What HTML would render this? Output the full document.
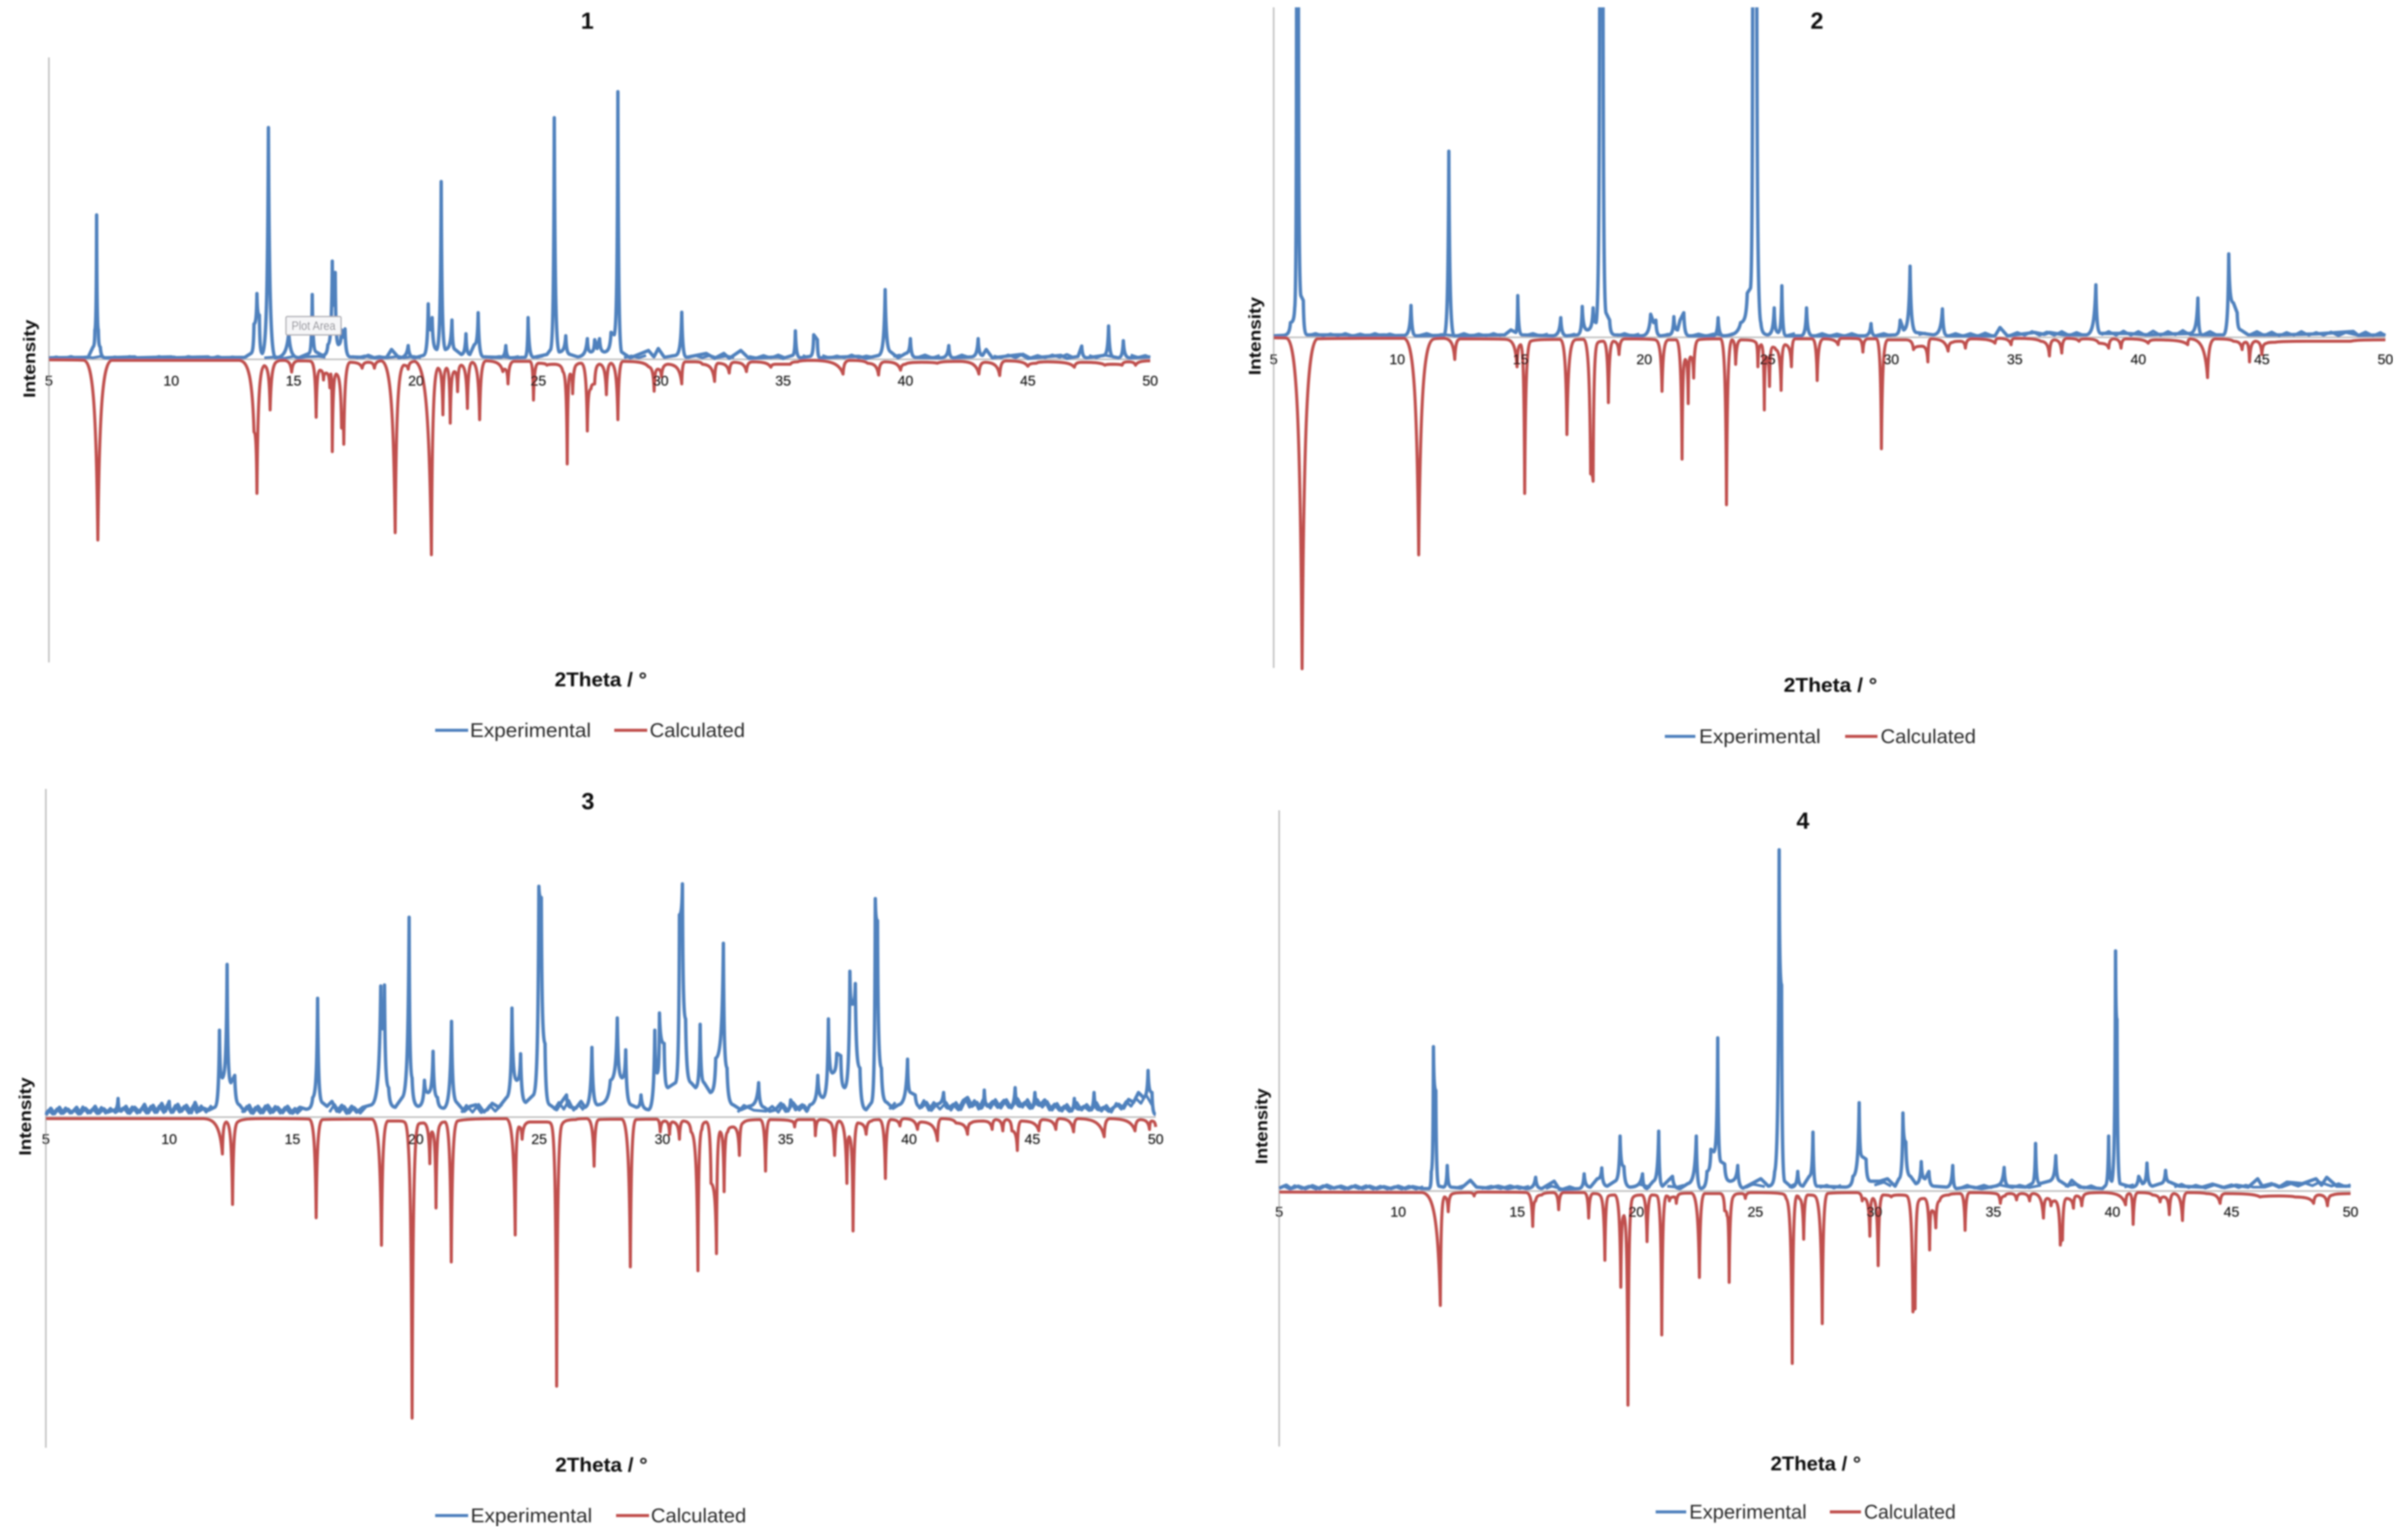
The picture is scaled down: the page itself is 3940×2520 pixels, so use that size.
<!DOCTYPE html>
<html lang="en">
<head>
<meta charset="utf-8">
<title>Experimental and calculated diffraction patterns</title>
<style>
html,body{margin:0;padding:0;background:#fff;}
svg{display:block;font-family:"Liberation Sans",sans-serif;}
.title{font-size:38px;font-weight:bold;fill:#111;text-anchor:middle;dominant-baseline:central;}
.xlab{font-size:32px;font-weight:bold;fill:#111;text-anchor:middle;dominant-baseline:central;}
.ylab{font-size:28px;font-weight:bold;fill:#111;text-anchor:middle;dominant-baseline:central;}
.leg{font-size:32px;fill:#2a2a2a;dominant-baseline:central;}
.tick{font-size:23px;fill:#1c1c1c;stroke:#1c1c1c;stroke-width:.35px;text-anchor:middle;dominant-baseline:central;}
</style>
</head>
<body>
<svg id="root" width="3940" height="2520" viewBox="0 0 3940 2520" xmlns="http://www.w3.org/2000/svg">
<defs>
<filter id="soft" x="0" y="0" width="100%" height="100%"><feGaussianBlur stdDeviation="1.3"/></filter>
<clipPath id="clip-panel-2"><rect x="2000" y="12" width="1940" height="1090"/></clipPath>
</defs>
<rect x="0" y="0" width="3940" height="2520" fill="#fff"/>
<g filter="url(#soft)">

<g id="panel-1">
<text class="title" x="961" y="35">1</text>
<text class="ylab" x="48" y="587" transform="rotate(-90 48 587)" textLength="128" lengthAdjust="spacingAndGlyphs">Intensity</text>
<text class="xlab" x="983" y="1112" textLength="151" lengthAdjust="spacingAndGlyphs">2Theta / °</text>
<line x1="712" x2="766" y1="1195" y2="1195" stroke="#4F81BD" stroke-width="5"/>
<text class="leg" x="769" y="1195" textLength="198" lengthAdjust="spacingAndGlyphs">Experimental</text>
<line x1="1005" x2="1059" y1="1195" y2="1195" stroke="#C0504D" stroke-width="5"/>
<text class="leg" x="1063" y="1195" textLength="156" lengthAdjust="spacingAndGlyphs">Calculated</text>
</g>

<g id="panel-2">
<text class="title" x="2973" y="35">2</text>
<text class="ylab" x="2053" y="550" transform="rotate(-90 2053 550)" textLength="128" lengthAdjust="spacingAndGlyphs">Intensity</text>
<text class="xlab" x="2995" y="1121" textLength="153" lengthAdjust="spacingAndGlyphs">2Theta / °</text>
<line x1="2724" x2="2774" y1="1205" y2="1205" stroke="#4F81BD" stroke-width="5"/>
<text class="leg" x="2780" y="1205" textLength="199" lengthAdjust="spacingAndGlyphs">Experimental</text>
<line x1="3019" x2="3072" y1="1205" y2="1205" stroke="#C0504D" stroke-width="5"/>
<text class="leg" x="3077" y="1205" textLength="156" lengthAdjust="spacingAndGlyphs">Calculated</text>
</g>

<g id="panel-3">
<text class="title" x="962" y="1312">3</text>
<text class="ylab" x="41" y="1827" transform="rotate(-90 41 1827)" textLength="128" lengthAdjust="spacingAndGlyphs">Intensity</text>
<text class="xlab" x="984" y="2397" textLength="151" lengthAdjust="spacingAndGlyphs">2Theta / °</text>
<line x1="712" x2="766" y1="2480" y2="2480" stroke="#4F81BD" stroke-width="5"/>
<text class="leg" x="770" y="2480" textLength="199" lengthAdjust="spacingAndGlyphs">Experimental</text>
<line x1="1008" x2="1062" y1="2480" y2="2480" stroke="#C0504D" stroke-width="5"/>
<text class="leg" x="1065" y="2480" textLength="156" lengthAdjust="spacingAndGlyphs">Calculated</text>
</g>

<g id="panel-4">
<text class="title" x="2950" y="1344">4</text>
<text class="ylab" x="2064" y="1843" transform="rotate(-90 2064 1843)" textLength="124" lengthAdjust="spacingAndGlyphs">Intensity</text>
<text class="xlab" x="2971" y="2395" textLength="148" lengthAdjust="spacingAndGlyphs">2Theta / °</text>
<line x1="2709" x2="2759" y1="2474" y2="2474" stroke="#4F81BD" stroke-width="5"/>
<text class="leg" x="2764" y="2474" textLength="192" lengthAdjust="spacingAndGlyphs">Experimental</text>
<line x1="2994" x2="3045" y1="2474" y2="2474" stroke="#C0504D" stroke-width="5"/>
<text class="leg" x="3050" y="2474" textLength="150" lengthAdjust="spacingAndGlyphs">Calculated</text>
</g>

<g id="overlay"></g>
</g>
</svg>

<script>
// Shared x-axis tick labels (degrees 2-theta)
const xTicks = [5,10,15,20,25,30,35,40,45,50];

// Turning points: [2-theta, intensity in arbitrary units]
const exp1 = [[5,3],[6.6,4],[6.8,25],[6.88,60],[6.95,294],[7.02,60],[7.1,25],[7.3,3],[8.5,5],[8.6,3],[10,5],[10.1,3],[11.5,5],[11.6,3],[13,4],[13.25,12],[13.38,72],[13.5,134],[13.6,90],[13.72,12],[13.97,472],[14.25,3],[14.8,55],[15.2,3],[15.62,12],[15.76,132],[15.92,15],[16.17,8],[16.4,30],[16.58,200],[16.66,110],[16.7,177],[16.83,30],[16.95,60],[17.02,45],[17.1,62],[17.3,5],[17.85,4],[18.05,8],[18.3,3],[18.8,4],[19,20],[19.3,3],[19.68,28],[19.95,3],[20.3,8],[20.5,113],[20.6,60],[20.66,85],[20.85,20],[21.03,362],[21.2,20],[21.47,80],[21.6,20],[21.85,10],[22.04,52],[22.2,10],[22.38,30],[22.54,95],[22.75,5],[23.45,4],[23.67,28],[23.85,3],[24.45,4],[24.58,85],[24.8,4],[25.35,10],[25.5,20],[25.65,492],[25.85,15],[26.12,48],[26.3,10],[26.6,5],[27,42],[27.15,15],[27.3,40],[27.4,22],[27.5,42],[27.7,15],[27.97,55],[28.1,50],[28.25,545],[28.4,15],[28.75,3],[29.5,18],[29.72,5],[29.9,22],[30.15,4],[30.6,8],[30.86,96],[31.05,4],[31.86,12],[32.2,2],[32.58,12],[32.8,2],[33.27,18],[33.6,2],[34.8,5],[35,2],[35.38,8],[35.5,58],[35.7,3],[36.1,6],[36.25,50],[36.4,40],[36.5,3],[37.5,5],[38.1,6],[38.4,2],[38.9,8],[39.17,142],[39.4,15],[39.7,3],[40,12],[40.2,42],[40.4,4],[41.45,3],[41.77,28],[41.95,3],[42.7,5],[42.97,42],[43.15,8],[43.3,20],[43.55,3],[44.72,10],[45,2],[46.35,8],[46.6,2],[47.05,6],[47.2,27],[47.4,3],[48.1,8],[48.3,68],[48.5,5],[48.7,3],[48.9,38],[49.15,3],[50,5]];
const fuzz1 = [[5,2],[5.3,5],[5.6,2],[5.9,6],[6.2,2],[6.5,5],[6.8,3],[7.1,6],[7.4,2],[7.7,5],[8,2],[8.3,6],[8.6,2],[8.9,4],[9.2,2],[9.5,6],[9.8,2],[10.1,5],[10.4,2],[10.7,6],[11,3],[11.3,5],[11.6,2],[11.9,6],[12.2,2],[12.5,5],[12.8,3],[13.1,5],[13.8,3],[14.3,5],[14.6,2],[15,6],[15.3,3],[15.5,5],[16,6],[16.3,4],[17.4,6],[17.6,3],[17.9,7],[18.2,3],[18.5,6],[18.8,3],[19.3,6],[19.5,3],[19.9,6],[20.2,3],[22.8,6],[23.1,3],[23.4,6],[23.9,3],[24.2,6],[24.9,3],[25.2,7],[26.6,4],[26.8,8],[28.5,3],[28.8,7],[29.1,3],[29.4,8],[30.2,4],[30.5,8],[31.1,3],[31.4,8],[31.7,3],[32,8],[32.3,3],[32.7,7],[33,3],[33.6,6],[33.9,3],[34.2,8],[34.5,3],[34.8,9],[35.1,3],[35.8,8],[36,4],[36.6,8],[36.9,3],[37.2,7],[37.5,3],[37.8,9],[38.1,3],[38.4,7],[38.7,4],[39.5,6],[39.8,9],[40.5,4],[40.8,9],[41.1,3],[41.4,8],[42,3],[42.3,9],[42.6,4],[43.6,7],[43.9,3],[44.2,9],[44.5,3],[44.8,11],[45.1,3],[45.4,8],[45.7,3],[46,9],[46.3,4],[46.6,10],[46.9,3],[47.5,8],[47.8,3],[48.1,9],[48.6,4],[49.2,9],[49.5,4],[49.8,8],[50,4]];
const calc1 = [[5,-1],[6.45,-2],[7,-368],[7.55,-2],[12.8,-2],[13.38,-148],[13.5,-273],[13.8,-13],[14.04,-103],[14.35,-4],[14.6,-2],[14.92,-26],[15.2,-3],[15.7,-4],[15.92,-118],[16.08,-22],[16.22,-42],[16.33,-28],[16.48,-58],[16.52,-30],[16.58,-188],[16.74,-30],[16.96,-140],[17,-130],[17.05,-173],[17.3,-6],[17.8,-18],[18.05,-6],[18.3,-18],[18.6,-3],[19.15,-353],[19.5,-12],[19.68,-20],[19.95,-4],[20.63,-398],[20.9,-18],[21.1,-113],[21.25,-18],[21.4,-130],[21.57,-25],[21.7,-66],[21.85,-12],[22.1,-100],[22.3,-6],[22.6,-123],[22.85,-3],[23.55,-25],[23.62,-20],[23.76,-50],[24,-4],[24.65,-4],[24.8,-83],[25,-8],[25.35,-12],[25.65,-10],[26,-25],[26.18,-213],[26.3,-30],[26.4,-70],[26.6,-10],[26.76,-8],[27,-146],[27.15,-60],[27.3,-50],[27.5,-10],[27.78,-72],[27.97,-8],[28.25,-123],[28.45,-4],[29.5,-15],[29.73,-65],[29.88,-20],[30.03,-35],[30.3,-10],[30.86,-50],[31,-5],[31.4,-5],[31.7,-10],[32.2,-45],[32.35,-8],[32.8,-28],[33,-6],[33.5,-25],[33.75,-5],[34.5,-16],[34.7,-10],[35.3,-10],[35.6,-5],[36.2,-2],[37.45,-30],[37.7,-2],[38.45,-8],[38.9,-32],[39.15,-5],[39.8,-22],[40,-10],[40.65,-6],[41.3,-8],[42.2,-4],[43,-30],[43.25,-6],[43.85,-33],[44.1,-3],[45,-14],[45.35,-8],[45.8,-5],[46.9,-16],[47.2,-6],[48.15,-12],[48.45,-10],[48.85,-12],[49.1,-5],[49.4,-12],[50,-3]];

const exp2 = [[5,3],[5.4,4],[5.68,30],[5.85,60],[5.93,800],[6,800],[6.1,85],[6.2,75],[6.35,5],[8,5],[8.1,3],[9.5,5],[9.6,3],[10.3,4],[10.56,65],[10.75,3],[11.9,4],[12.09,379],[12.3,3],[14.35,5],[14.6,15],[14.8,10],[14.88,85],[15.05,5],[16.3,3],[16.62,40],[16.85,3],[17.3,5],[17.49,63],[17.7,15],[17.93,60],[18.05,30],[18.2,800],[18.33,800],[18.45,50],[18.6,35],[18.8,5],[19.9,3],[20.26,47],[20.38,30],[20.47,35],[20.65,3],[21,5],[21.2,42],[21.35,15],[21.45,35],[21.6,50],[21.8,3],[22.8,3],[22.99,40],[23.2,3],[23.9,30],[24.17,90],[24.3,100],[24.39,800],[24.55,800],[24.72,30],[25,5],[25.26,60],[25.42,10],[25.57,105],[25.73,3],[26.35,3],[26.57,60],[26.8,3],[28.9,3],[29.18,28],[29.36,3],[30.15,5],[30.36,35],[30.5,15],[30.76,145],[31,10],[31.7,5],[32.07,58],[32.26,3],[34.2,3],[34.4,20],[34.7,3],[35.8,10],[36.2,6],[36.4,10],[37,5],[37.9,5],[38.28,107],[38.47,8],[39.5,8],[40.4,5],[41.4,7],[42.1,8],[42.41,80],[42.57,5],[43.45,5],[43.66,170],[43.85,70],[44,50],[44.15,15],[44.45,5],[45.7,5],[47.2,7],[48.7,12],[48.9,4],[50,5]];
const fuzz2 = [[5,3],[6.4,4],[6.7,8],[7,3],[7.3,7],[7.6,3],[7.9,8],[8.2,3],[8.5,7],[8.8,3],[9.1,8],[9.4,3],[9.7,7],[10,3],[10.9,4],[11.2,8],[11.5,3],[11.8,6],[12.4,3],[12.7,8],[13,3],[13.3,7],[13.6,3],[13.9,8],[14.2,3],[15.2,4],[15.5,8],[15.8,3],[16.1,7],[16.9,3],[17.2,7],[18.9,3],[19.2,8],[19.5,3],[19.8,7],[20.7,3],[21,7],[21.9,3],[22.2,7],[22.5,3],[22.8,7],[23.3,3],[23.6,8],[25,4],[25.8,4],[26.1,8],[26.9,3],[27.2,8],[27.5,3],[27.8,7],[28.1,3],[28.4,8],[28.7,3],[29.4,4],[29.7,8],[30,3],[31.1,5],[31.4,9],[32.3,3],[32.6,8],[32.9,3],[33.2,8],[33.5,3],[33.8,9],[34.1,3],[34.8,4],[35.1,10],[35.4,4],[35.7,12],[36,4],[36.3,11],[36.6,4],[36.9,12],[37.2,4],[37.5,10],[37.8,4],[38.5,5],[38.8,12],[39.1,4],[39.4,13],[39.7,4],[40,12],[40.3,4],[40.6,13],[40.9,4],[41.2,12],[41.5,5],[41.8,14],[42.1,5],[42.6,5],[42.9,12],[43.2,4],[44.5,5],[44.8,12],[45.1,4],[45.4,11],[45.7,3],[46,10],[46.3,4],[46.6,12],[46.9,4],[47.2,10],[47.5,4],[47.8,11],[48.1,3],[48.4,10],[48.9,4],[49.2,11],[49.5,3],[49.8,10],[50,4]];
const calc2 = [[5,-1],[5.55,-2],[6.15,-675],[6.75,-3],[10.3,-2],[10.87,-443],[11.45,-4],[11.9,-2],[12.33,-45],[12.55,-3],[14.4,-4],[14.85,-60],[15,-15],[15.16,-318],[15.4,-8],[16.6,-4],[16.87,-198],[17.2,-5],[17.55,-4],[17.83,-278],[17.93,-293],[18.11,-12],[18.35,-8],[18.55,-133],[18.75,-8],[18.98,-35],[19.2,-3],[20.45,-5],[20.72,-110],[20.97,-5],[21.3,-5],[21.53,-248],[21.66,-45],[21.78,-135],[21.87,-40],[22,-83],[22.2,-5],[23.1,-3],[23.33,-341],[23.55,-5],[23.7,-55],[23.92,-5],[24.5,-10],[24.6,-60],[24.74,-15],[24.86,-148],[24.95,-40],[25.07,-100],[25.2,-20],[25.32,-25],[25.54,-108],[25.7,-15],[25.96,-60],[26.1,-3],[26.8,-3],[27,-88],[27.25,-3],[27.85,-15],[28,-2],[28.65,-3],[28.85,-30],[29.05,-3],[29.4,-3],[29.6,-227],[29.85,-5],[30.6,-5],[30.9,-25],[31.25,-18],[31.48,-50],[31.6,-3],[32.3,-28],[32.5,-10],[32.8,-8],[33,-22],[33.25,-3],[34.2,-12],[34.35,-2],[34.85,-15],[35,-2],[36.05,-8],[36.4,-38],[36.6,-5],[36.9,-32],[37.1,-2],[37.6,-8],[37.85,-3],[38.4,-12],[38.8,-22],[39,-3],[39.3,-22],[39.5,-3],[40.4,-12],[40.7,-5],[42,-15],[42.1,-3],[42.8,-82],[43.1,-3],[43.85,-8],[44.2,-25],[44.35,-10],[44.5,-50],[44.75,-8],[45,-35],[45.2,-12],[45.55,-10],[46.8,-8],[48.6,-8],[50,-5]];

const exp3 = [[5,4],[5.2,18],[5.35,7],[5.55,20],[5.7,8],[5.9,16],[6.05,9],[6.25,20],[6.4,7],[6.6,18],[6.8,9],[7,22],[7.15,8],[7.35,17],[7.5,10],[7.75,14],[7.93,38],[8.05,12],[8.25,22],[8.4,8],[8.6,20],[8.8,10],[9,26],[9.15,9],[9.35,24],[9.5,10],[9.7,28],[9.85,12],[10,32],[10.15,10],[10.35,26],[10.5,12],[10.7,24],[10.9,9],[11.05,30],[11.2,12],[11.4,18],[11.6,14],[11.85,20],[12.04,177],[12.16,80],[12.35,311],[12.5,70],[12.66,85],[12.85,25],[13.05,12],[13.25,24],[13.4,8],[13.6,22],[13.8,9],[14,24],[14.2,10],[14.4,20],[14.6,9],[14.8,22],[15,8],[15.3,20],[15.55,16],[15.82,40],[16.02,242],[16.2,30],[16.4,22],[16.6,32],[16.8,12],[17,24],[17.2,8],[17.4,22],[17.6,10],[17.85,20],[18.2,25],[18.58,267],[18.65,180],[18.73,269],[18.9,60],[19.17,20],[19.45,40],[19.73,407],[19.85,80],[20.1,22],[20.35,75],[20.5,50],[20.7,134],[20.88,40],[21.13,18],[21.45,195],[21.66,30],[21.97,12],[22.2,22],[22.44,25],[22.65,10],[22.9,15],[23.1,28],[23.37,20],[23.68,40],[23.9,222],[24.09,75],[24.25,129],[24.46,30],[24.77,45],[24.99,470],[25.09,447],[25.24,150],[25.43,25],[25.71,15],[25.9,30],[26.11,45],[26.3,20],[26.49,18],[26.7,32],[26.86,20],[27.14,142],[27.36,25],[27.89,75],[28.17,202],[28.36,80],[28.51,137],[28.73,25],[28.95,20],[29.13,45],[29.44,15],[29.69,177],[29.79,90],[29.88,212],[30.07,150],[30.22,60],[30.53,70],[30.69,412],[30.81,475],[30.94,200],[31.16,70],[31.34,60],[31.53,189],[31.69,70],[31.94,50],[32.16,120],[32.47,354],[32.62,100],[32.87,25],[33.18,15],[33.5,22],[33.9,70],[34.12,20],[34.35,12],[34.58,15],[34.8,28],[35,12],[35.2,35],[35.4,15],[35.67,25],[35.85,12],[35.98,25],[36.3,85],[36.51,40],[36.73,200],[36.89,90],[37.07,130],[37.23,125],[37.39,60],[37.6,297],[37.7,230],[37.82,272],[38.01,100],[38.26,15],[38.48,30],[38.63,445],[38.72,400],[38.88,100],[39.1,30],[39.35,18],[39.57,25],[39.94,118],[40.06,50],[40.25,45],[40.5,20],[40.7,30],[40.9,14],[41.1,26],[41.4,50],[41.6,18],[41.8,26],[42,15],[42.2,34],[42.37,40],[42.55,22],[42.75,30],[42.9,18],[43.05,55],[43.2,22],[43.4,32],[43.6,20],[43.85,34],[44.05,20],[44.3,60],[44.5,22],[44.7,30],[44.9,18],[45.1,50],[45.3,24],[45.5,35],[45.7,15],[45.9,26],[46.1,14],[46.3,22],[46.5,12],[46.7,38],[46.9,16],[47.1,22],[47.3,14],[47.5,50],[47.7,15],[47.9,20],[48.1,12],[48.3,20],[48.5,26],[48.7,18],[48.9,36],[49.1,30],[49.3,50],[49.5,40],[49.69,95],[49.85,50],[50,5]];
const fuzz3 = [[5,8],[5.1,14],[5.28,6],[5.45,17],[5.62,7],[5.8,19],[5.98,8],[6.15,15],[6.32,6],[6.5,21],[6.7,8],[6.9,17],[7.08,7],[7.25,20],[7.42,8],[7.62,18],[7.82,9],[8.15,19],[8.32,8],[8.5,21],[8.7,8],[8.9,19],[9.08,8],[9.25,22],[9.42,9],[9.6,23],[9.78,9],[9.92,25],[10.08,9],[10.25,24],[10.42,10],[10.6,22],[10.8,8],[10.98,24],[11.12,9],[11.3,23],[11.5,10],[11.72,24],[12.95,9],[13.15,22],[13.32,8],[13.5,20],[13.7,8],[13.9,23],[14.1,8],[14.3,22],[14.5,8],[14.7,20],[14.9,8],[15.1,18],[15.2,8],[15.45,20],[16.5,10],[16.7,26],[16.9,10],[17.1,22],[17.3,8],[17.5,20],[17.75,8],[18,22],[21.85,9],[22.05,24],[22.3,10],[22.55,26],[22.78,10],[23,24],[23.22,12],[23.5,26],[25.6,14],[25.8,30],[26,16],[26.2,34],[26.4,14],[26.6,26],[26.8,14],[29.3,14],[33.05,10],[33.3,24],[33.7,14],[34.2,12],[34.45,22],[34.7,10],[34.9,26],[35.1,12],[35.3,30],[35.55,14],[35.75,24],[35.92,12],[39.2,16],[39.45,30],[40.4,16],[40.6,34],[40.8,14],[41,30],[41.25,16],[41.5,30],[41.7,14],[41.9,30],[42.1,15],[42.3,36],[42.45,20],[42.65,34],[42.82,16],[43,36],[43.3,18],[43.5,36],[43.72,18],[43.95,36],[44.15,18],[44.4,38],[44.6,20],[44.8,36],[45,18],[45.2,36],[45.4,20],[45.6,32],[45.8,14],[46,28],[46.2,12],[46.4,26],[46.6,12],[46.8,30],[47,14],[47.2,26],[47.4,14],[47.6,30],[47.8,12],[48,24],[48.2,10],[48.4,28],[48.6,16],[48.8,32],[49,22],[49.2,38],[49.4,28],[49.6,46],[49.9,20]];
const calc3 = [[5,-3],[11.4,-3],[12.16,-75],[12.32,-10],[12.57,-178],[12.78,-10],[13.72,-3],[15.68,-4],[15.96,-205],[16.21,-5],[18.23,-4],[18.61,-261],[18.86,-8],[19.32,-8],[19.57,-12],[19.85,-613],[20.1,-15],[20.32,-12],[20.57,-95],[20.66,-30],[20.82,-185],[21,-15],[21.19,-10],[21.44,-295],[21.69,-8],[23.68,-3],[24.03,-240],[24.18,-20],[24.31,-45],[24.62,-10],[25.3,-10],[25.49,-15],[25.71,-548],[25.93,-15],[26.49,-5],[26.95,-3],[27.23,-100],[27.42,-5],[28.36,-4],[28.7,-305],[28.92,-5],[29.76,-4],[29.91,-30],[30.1,-8],[30.29,-35],[30.41,-10],[30.69,-45],[30.85,-8],[31.16,-30],[31.44,-313],[31.6,-25],[31.78,-10],[31.97,-135],[32.19,-278],[32.34,-30],[32.5,-152],[32.65,-30],[32.87,-20],[33.12,-78],[33.27,-12],[33.96,-5],[34.18,-110],[34.36,-5],[35.2,-8],[35.36,-20],[35.52,-5],[36.14,-5],[36.2,-38],[36.39,-5],[36.76,-10],[36.98,-78],[37.17,-8],[37.48,-135],[37.57,-40],[37.73,-232],[37.92,-12],[38.26,-35],[38.48,-8],[38.79,-5],[39.04,-125],[39.25,-5],[39.63,-18],[39.81,-3],[40.34,-25],[40.5,-10],[41.15,-48],[41.31,-3],[41.9,-12],[42.37,-35],[42.52,-12],[43,-8],[43.37,-25],[43.52,-5],[43.8,-28],[43.96,-5],[44.17,-28],[44.39,-68],[44.55,-8],[45.26,-28],[45.42,-5],[45.95,-25],[46.1,-3],[46.67,-30],[46.85,-3],[47.91,-40],[48.13,-3],[49.16,-28],[49.38,-5],[49.75,-25],[49.84,-8],[50,-20]];

const exp4 = [[5,6],[5.3,12],[5.5,5],[5.8,10],[6.1,5],[6.4,11],[6.7,5],[7,12],[7.3,6],[7.6,10],[7.9,5],[8.2,11],[8.5,5],[8.8,10],[9.1,5],[9.4,9],[9.7,5],[10,10],[10.3,5],[10.6,9],[11,5],[11.29,5],[11.39,40],[11.48,294],[11.58,205],[11.71,10],[11.9,8],[12.06,52],[12.23,8],[12.65,6],[13.03,22],[13.29,8],[13.8,6],[14.2,10],[14.6,5],[15,9],[15.39,5],[15.77,28],[16.03,5],[16.55,20],[16.78,3],[17.58,5],[17.81,35],[18.07,8],[18.36,25],[18.55,47],[18.78,10],[19.1,20],[19.32,112],[19.48,50],[19.74,8],[20.26,35],[20.45,5],[20.71,20],[20.94,122],[21.1,10],[21.52,30],[21.84,5],[22.16,15],[22.52,112],[22.71,5],[22.97,40],[23.13,85],[23.26,80],[23.42,312],[23.55,60],[23.71,55],[23.94,20],[24.26,52],[24.49,6],[25.23,25],[25.55,10],[25.81,40],[26,695],[26.1,420],[26.23,20],[26.52,8],[26.78,40],[27,10],[27.26,30],[27.42,120],[27.58,10],[28.78,8],[29.1,30],[29.36,180],[29.49,70],[29.65,65],[29.84,20],[30.23,20],[30.55,25],[30.87,10],[31.03,25],[31.2,159],[31.32,100],[31.52,30],[31.74,15],[31.97,60],[32.13,25],[32.29,40],[32.49,10],[33.03,8],[33.29,52],[33.45,5],[34,9],[34.5,5],[35.07,10],[35.45,48],[35.65,10],[36.36,8],[36.61,15],[36.77,97],[36.94,15],[37.32,20],[37.62,72],[37.81,20],[38.13,10],[38.29,22],[38.62,8],[39.58,5],[39.68,10],[39.84,112],[39.97,20],[40.13,489],[40.19,350],[40.32,15],[40.81,8],[41.1,30],[41.26,15],[41.45,57],[41.68,10],[42,15],[42.23,42],[42.42,18],[42.81,10],[43.78,8],[44.2,14],[44.7,7],[45.2,12],[45.7,8],[46.1,25],[46.29,10],[46.68,15],[47,8],[47.33,18],[47.97,15],[48.55,25],[48.78,12],[49,28],[49.42,10],[50,10]];
const fuzz4 = [[5,5],[5.2,10],[5.45,4],[5.65,11],[5.95,5],[6.25,10],[6.55,4],[6.85,11],[7.15,5],[7.45,9],[7.75,4],[8.05,10],[8.35,5],[8.65,11],[8.95,4],[9.25,10],[9.55,4],[9.85,9],[10.15,4],[10.45,10],[10.75,4],[11.05,9],[12.4,6],[12.8,12],[13.5,5],[13.9,10],[14.3,5],[14.7,11],[15.1,5],[15.5,10],[16.2,5],[16.45,10],[16.9,4],[17.2,9],[17.5,4],[18.9,12],[19.9,8],[20.1,14],[20.6,8],[21.3,10],[21.7,8],[22,12],[22.8,8],[24.6,7],[24.9,14],[25.4,9],[26.4,8],[26.65,14],[27.7,7],[28,12],[28.3,6],[28.6,12],[30,12],[30.4,18],[30.7,10],[33.6,6],[33.9,12],[34.2,6],[34.6,12],[34.9,7],[35.2,13],[35.8,7],[36.1,12],[36.5,7],[37,12],[38,10],[38.5,14],[38.8,6],[39.1,11],[39.4,5],[40.5,8],[40.9,13],[42.6,8],[42.9,14],[43.2,7],[43.5,12],[43.9,6],[44.3,13],[44.6,7],[45,13],[45.3,7],[45.6,12],[45.9,8],[46.4,8],[46.8,14],[47.1,8],[47.5,15],[47.8,10],[48.1,16],[48.4,11],[48.7,18],[49.2,10],[49.5,15],[49.8,9],[50,13]];
const calc4 = [[5,-2],[11.03,-3],[11.77,-233],[11.94,-12],[12.1,-42],[12.32,-5],[12.97,-3],[13.19,-10],[13.39,-2],[15.39,-3],[15.65,-72],[15.77,-20],[16.03,-8],[16.52,-3],[16.74,-38],[16.94,-3],[17.81,-3],[18,-55],[18.19,-5],[18.45,-8],[18.68,-141],[18.84,-10],[19.1,-8],[19.35,-196],[19.48,-50],[19.65,-436],[19.84,-15],[20.23,-8],[20.45,-103],[20.65,-8],[20.87,-10],[21.07,-293],[21.26,-10],[21.39,-20],[21.58,-12],[21.68,-25],[21.9,-5],[22.32,-4],[22.65,-176],[22.87,-5],[23.52,-5],[23.71,-40],[23.81,-50],[23.9,-186],[24.1,-10],[24.42,-5],[24.58,-15],[24.81,-3],[26.03,-5],[26.29,-15],[26.55,-351],[26.74,-10],[26.84,-15],[27.03,-98],[27.2,-8],[27.49,-10],[27.81,-270],[28.03,-5],[29.26,-3],[29.49,-20],[29.58,-15],[29.81,-92],[29.94,-15],[30.16,-152],[30.36,-8],[30.71,-12],[31.03,-8],[31.36,-10],[31.62,-246],[31.71,-240],[31.87,-20],[32.1,-15],[32.32,-120],[32.42,-40],[32.58,-75],[32.74,-20],[33.13,-8],[33.61,-5],[33.81,-80],[34,-3],[35.07,-5],[35.29,-25],[35.49,-10],[35.71,-5],[35.97,-18],[36.2,-5],[36.52,-20],[36.68,-5],[37.1,-55],[37.26,-15],[37.42,-30],[37.58,-20],[37.81,-110],[37.9,-100],[38.07,-15],[38.36,-35],[38.49,-10],[38.71,-30],[38.94,-5],[39.58,-3],[40.55,-28],[40.71,-5],[40.87,-68],[41.07,-3],[41.68,-8],[42,-22],[42.16,-12],[42.39,-48],[42.58,-5],[42.94,-60],[43.13,-3],[43.94,-5],[44.52,-25],[44.74,-5],[46.2,-12],[47,-10],[47.65,-12],[48.45,-25],[48.68,-8],[49.03,-30],[49.26,-8],[50,-5]];

const INTENSITY_SCALE = 0.8036;
const NOISE_GAP_DEGREES = 0.6;
const SVG_NS = 'http://www.w3.org/2000/svg';

const panels = [
  {n:1, left:80, right:1882, base:588, top:94, bottom:1084, tickY:623, exp:exp1, fuzz:fuzz1, calc:calc1},
  {n:2, left:2084, right:3903, base:552, top:12, bottom:1093, tickY:588, exp:exp2, fuzz:fuzz2, calc:calc2, clip:'url(#clip-panel-2)'},
  {n:3, left:75, right:1891, base:1828, top:1291, bottom:2369, tickY:1864, exp:exp3, fuzz:fuzz3, calc:calc3},
  {n:4, left:2093, right:3846, base:1949, top:1326, bottom:2367, tickY:1983, exp:exp4, fuzz:fuzz4, calc:calc4}
];

function xScale(p, theta) {
  return p.left + (theta - 5) * (p.right - p.left) / 45;
}
function yScale(p, v) {
  return p.base - v * INTENSITY_SCALE;
}
// Line through the turning points: straight for steps below smallStep, peak-shaped above it.
function tracePath(p, rows, smallStep) {
  let d = 'M' + xScale(p, rows[0][0]).toFixed(1) + ' ' + yScale(p, rows[0][1]).toFixed(1);
  for (let i = 1; i < rows.length; i++) {
    const x0 = xScale(p, rows[i-1][0]), y0 = yScale(p, rows[i-1][1]);
    const x1 = xScale(p, rows[i][0]), y1 = yScale(p, rows[i][1]);
    const dx = x1 - x0, dy = y1 - y0;
    if (Math.abs(rows[i][1] - rows[i-1][1]) < smallStep) {
      d += 'L' + x1.toFixed(1) + ' ' + y1.toFixed(1);
      continue;
    }
    let c1x, c1y, c2x, c2y;
    if (Math.abs(rows[i][1]) >= Math.abs(rows[i-1][1])) {
      c1x = x0 + 0.6 * dx; c1y = y0 + 0.02 * dy;
      c2x = x0 + 0.88 * dx; c2y = y0 + 0.22 * dy;
    } else {
      c1x = x0 + 0.12 * dx; c1y = y0 + 0.78 * dy;
      c2x = x0 + 0.4 * dx; c2y = y0 + 0.98 * dy;
    }
    d += 'C' + c1x.toFixed(1) + ' ' + c1y.toFixed(1) + ' ' + c2x.toFixed(1) + ' ' + c2y.toFixed(1) + ' ' + x1.toFixed(1) + ' ' + y1.toFixed(1);
  }
  return d;
}
// Noise zigzag: straight segments, lifted over the gaps where peaks take over.
function traceNoise(p, rows) {
  let d = '';
  for (let i = 0; i < rows.length; i++) {
    const jump = i === 0 || rows[i][0] - rows[i-1][0] > NOISE_GAP_DEGREES;
    d += (jump ? 'M' : 'L') + xScale(p, rows[i][0]).toFixed(1) + ' ' + yScale(p, rows[i][1]).toFixed(1);
  }
  return d;
}

panels.forEach(function (p) {
  const g = document.getElementById('panel-' + p.n);

  const yAxis = document.createElementNS(SVG_NS, 'line');
  
  
  yAxis.setAttribute('x1', p.left);
  yAxis.setAttribute('x2', p.left);
  yAxis.setAttribute('y1', p.top);
  yAxis.setAttribute('y2', p.bottom);
  yAxis.setAttribute('stroke', '#bdbdbd');
  yAxis.setAttribute('stroke-width', '2.5');
  g.appendChild(yAxis);

  const xAxis = document.createElementNS(SVG_NS, 'line');
  
  
  xAxis.setAttribute('x1', p.left);
  xAxis.setAttribute('x2', p.right);
  xAxis.setAttribute('y1', p.base);
  xAxis.setAttribute('y2', p.base);
  xAxis.setAttribute('stroke', '#bdbdbd');
  xAxis.setAttribute('stroke-width', '2.5');
  g.appendChild(xAxis);

  const fuzzLine = document.createElementNS(SVG_NS, 'path');
  
  
  fuzzLine.setAttribute('d', traceNoise(p, p.fuzz));
  fuzzLine.setAttribute('fill', 'none');
  fuzzLine.setAttribute('stroke', '#4F81BD');
  fuzzLine.setAttribute('stroke-width', '4.5');
  fuzzLine.setAttribute('stroke-linejoin', 'round');
  g.appendChild(fuzzLine);

  const expLine = document.createElementNS(SVG_NS, 'path');
  
  
  expLine.setAttribute('d', tracePath(p, p.exp, 22));
  expLine.setAttribute('fill', 'none');
  expLine.setAttribute('stroke', '#4F81BD');
  expLine.setAttribute('stroke-width', '5.6');
  expLine.setAttribute('stroke-linejoin', 'round');
  if (p.clip) expLine.setAttribute('clip-path', p.clip);
  g.appendChild(expLine);

  const calcLine = document.createElementNS(SVG_NS, 'path');
  
  
  calcLine.setAttribute('d', tracePath(p, p.calc, 0));
  calcLine.setAttribute('fill', 'none');
  calcLine.setAttribute('stroke', '#C0504D');
  calcLine.setAttribute('stroke-width', '5');
  calcLine.setAttribute('stroke-linejoin', 'round');
  if (p.clip) calcLine.setAttribute('clip-path', p.clip);
  g.appendChild(calcLine);

  xTicks.forEach(function (t) {
    const label = document.createElementNS(SVG_NS, 'text');
    
    
    label.setAttribute('class', 'tick');
    label.setAttribute('x', xScale(p, t));
    label.setAttribute('y', p.tickY);
    label.textContent = t;
    g.appendChild(label);
  });
});

// "Plot Area" tooltip caught in the first chart
const overlay = document.getElementById('overlay');
const tipBox = document.createElementNS(SVG_NS, 'rect');


tipBox.setAttribute('x', '468');
tipBox.setAttribute('y', '518');
tipBox.setAttribute('width', '90');
tipBox.setAttribute('height', '30');
tipBox.setAttribute('rx', '2');
tipBox.setAttribute('fill', '#f6f6f8');
tipBox.setAttribute('stroke', '#a8a8ae');
tipBox.setAttribute('stroke-width', '2');
overlay.appendChild(tipBox);
const tipText = document.createElementNS(SVG_NS, 'text');


tipText.setAttribute('x', '513');
tipText.setAttribute('y', '534');
tipText.setAttribute('font-size', '20');
tipText.setAttribute('fill', '#8a8a92');
tipText.setAttribute('text-anchor', 'middle');
tipText.setAttribute('dominant-baseline', 'central');
tipText.setAttribute('textLength', '72');
tipText.setAttribute('lengthAdjust', 'spacingAndGlyphs');
tipText.textContent = 'Plot Area';
overlay.appendChild(tipText);
</script>
</body>
</html>
